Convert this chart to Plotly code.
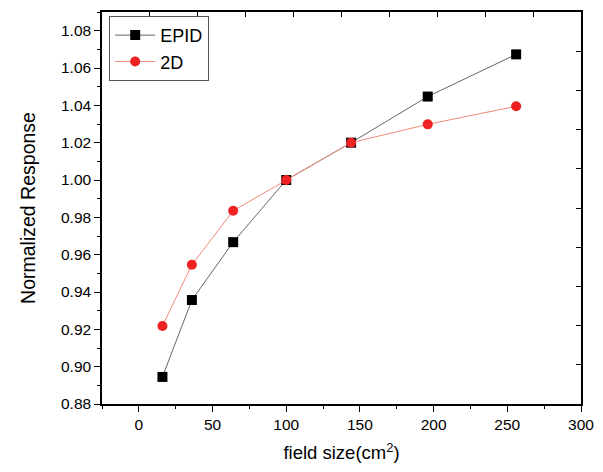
import plotly.graph_objects as go

field_size = [16, 36, 64, 100, 144, 196, 256]
epid = [0.8945, 0.9357, 0.9667, 1.000, 1.020, 1.0447, 1.0673]
d2 = [0.9218, 0.9546, 0.9835, 1.000, 1.020, 1.0298, 1.0395]

W, H = 603, 472
L, R, T, B = 102, 22, 12, 68
FAM = "Liberation Sans, Arial, sans-serif"

fig = go.Figure()
fig.add_trace(go.Scatter(x=field_size, y=epid, mode="lines+markers", name="EPID",
                         line=dict(color="#666666", width=1),
                         marker=dict(symbol="square", size=10, color="black")))
fig.add_trace(go.Scatter(x=field_size, y=d2, mode="lines+markers", name="2D",
                         line=dict(color="#f28a76", width=1),
                         marker=dict(symbol="circle", size=10, color="#ee2222")))
# invisible trace to activate the mirrored tick axes
fig.add_trace(go.Scatter(x=[None], y=[None], xaxis="x2", yaxis="y2", showlegend=False,
                         hoverinfo="skip", mode="markers"))

fig.update_layout(
    template="none",
    width=W, height=H,
    margin=dict(l=L, r=R, t=T, b=B, autoexpand=False),
    paper_bgcolor="white", plot_bgcolor="white",
    font=dict(family=FAM, size=15, color="black"),
    showlegend=True,
    legend=dict(x=0.015, y=0.99, xanchor="left", yanchor="top",
                bordercolor="#555555", borderwidth=1, bgcolor="white",
                font=dict(size=18, family=FAM),
                tracegroupgap=0, itemwidth=40),
    xaxis=dict(range=[-25, 300], tickmode="linear", tick0=0, dtick=50, automargin=False,
               ticks="outside", ticklen=6, tickwidth=1.2, tickcolor="black",
               minor=dict(dtick=25, tick0=0, ticks="outside", ticklen=3, tickcolor="black", tickwidth=1),
               showline=True, mirror=True, linecolor="black", linewidth=1.5,
               showgrid=False, zeroline=False,
               tickfont=dict(size=15.5),
               title=dict(text="field size(cm<sup>2</sup>)", font=dict(size=18.5), standoff=14)),
    yaxis=dict(range=[0.88, 1.09], tickmode="linear", tick0=0.88, dtick=0.02, tickformat=".2f",
               automargin=False,
               ticks="outside", ticklen=6, tickwidth=1.2, tickcolor="black",
               minor=dict(dtick=0.01, tick0=0.88, ticks="outside", ticklen=3, tickcolor="black", tickwidth=1),
               showline=True, mirror=True, linecolor="black", linewidth=1.5,
               showgrid=False, zeroline=False,
               tickfont=dict(size=15.5),
               title=dict(text="Normalized Response", font=dict(size=19.5), standoff=20)),
    xaxis2=dict(overlaying="x", side="top", range=[0, 10], tickmode="linear", tick0=0, dtick=1,
                ticks="inside", ticklen=5, tickwidth=1.2, tickcolor="black", showticklabels=False,
                showline=False, showgrid=False, zeroline=False, automargin=False, anchor="y"),
    yaxis2=dict(overlaying="y", side="right", range=[0, 10], tickmode="linear", tick0=0, dtick=1,
                ticks="inside", ticklen=5, tickwidth=1.2, tickcolor="black", showticklabels=False,
                showline=False, showgrid=False, zeroline=False, automargin=False, anchor="x"),
)

fig.write_html("out.html", config={"displayModeBar": False},
               post_script="document.body.style.margin='0';")
